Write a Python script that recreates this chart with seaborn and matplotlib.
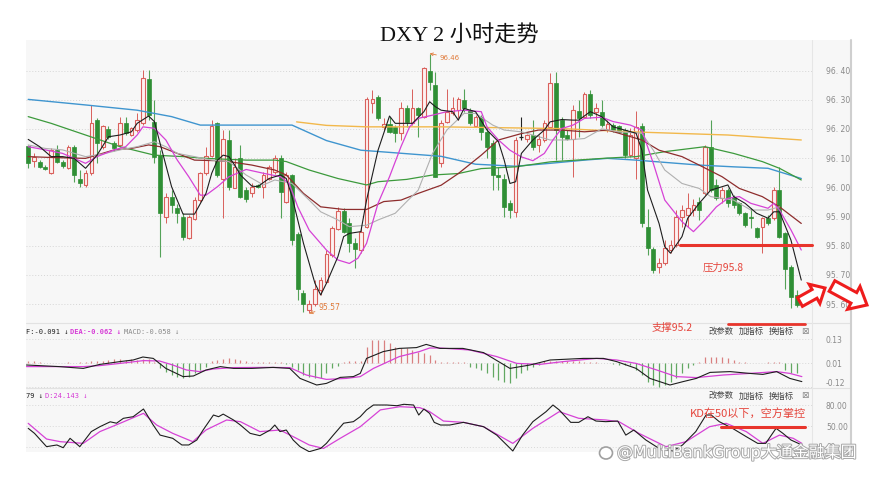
import numpy as np
import matplotlib
matplotlib.use("Agg")
import matplotlib.pyplot as plt
import seaborn as sns
from matplotlib.patches import Rectangle, FancyArrow, Ellipse
from matplotlib.lines import Line2D
from matplotlib.transforms import IdentityTransform
import matplotlib.patheffects as pe

# ---------------- data ----------------
title = "DXY 2 小时走势"

opens = [96.14, 96.09, 96.088, 96.07, 96.048, 96.128, 96.088, 96.065, 96.139, 96.03,
 96.008, 96.048, 96.23, 96.139, 96.198, 96.15, 96.145, 96.219, 96.179, 96.196,
 96.219, 96.37, 96.225, 96.11, 95.899, 95.968, 95.928, 95.899, 95.825, 95.89,
 95.956, 96.048, 96.107, 96.219, 96.03, 96.162, 95.999, 96.099, 95.99, 95.979,
 96.007, 96.002, 96.03, 96.053, 96.099, 95.951, 96.042, 95.839, 95.639, 95.58,
 95.6, 95.648, 95.677, 95.768, 95.857, 95.92, 95.876, 95.81, 95.785, 95.865,
 96.287, 96.31, 96.207, 96.216, 96.207, 96.185, 96.27, 96.219, 96.27, 96.241,
 96.399, 96.35, 96.082, 96.224, 96.253, 96.264, 96.298, 96.264, 96.21, 96.241,
 96.19, 96.15, 96.042, 96.03, 95.945, 95.916, 96.171, 96.164, 96.179, 96.144,
 96.162, 96.207, 96.358, 96.23, 96.179, 96.167, 96.26, 96.241, 96.321, 96.259,
 96.259, 96.196, 96.213, 96.21, 96.196, 96.11, 96.099, 96.21, 95.865, 95.787,
 95.728, 95.739, 95.785, 95.802, 95.899, 95.905, 95.922, 95.95, 95.979, 96.139,
 96.008, 95.962, 95.991, 95.968, 95.945, 95.911, 95.899, 95.859, 95.865, 95.894,
 95.894, 95.99, 95.842, 95.728, 95.631]

highs = [96.145, 96.116, 96.093, 96.075, 96.133, 96.145, 96.093, 96.145, 96.145, 96.059,
 96.059, 96.282, 96.236, 96.213, 96.21, 96.16, 96.242, 96.242, 96.207, 96.253,
 96.401, 96.401, 96.30, 96.128, 95.979, 95.991, 95.943, 95.911, 95.905, 95.968,
 96.053, 96.139, 96.230, 96.225, 96.196, 96.196, 96.099, 96.145, 96.0, 96.013,
 96.012, 96.053, 96.076, 96.11, 96.11, 96.053, 96.047, 95.848, 95.648, 95.614,
 95.682, 95.694, 95.785, 95.867, 95.933, 95.928, 95.894, 95.825, 95.865, 96.31,
 96.333, 96.316, 96.236, 96.242, 96.213, 96.293, 96.282, 96.338, 96.276, 96.413,
 96.458, 96.395, 96.23, 96.338, 96.31, 96.31, 96.338, 96.27, 96.247, 96.247,
 96.207, 96.162, 96.07, 96.047, 95.956, 96.173, 96.24, 96.184, 96.23, 96.179,
 96.23, 96.39, 96.395, 96.241, 96.196, 96.281, 96.298, 96.327, 96.333, 96.287,
 96.299, 96.23, 96.221, 96.215, 96.202, 96.202, 96.261, 96.221, 95.924, 95.796,
 95.757, 95.819, 95.819, 95.922, 95.939, 95.979, 95.96, 95.968, 96.145, 96.23,
 96.03, 96.002, 95.996, 95.975, 95.95, 95.916, 95.93, 95.865, 95.899, 95.905,
 96.002, 96.07, 95.848, 95.734, 95.648]

lows = [96.065, 96.07, 96.065, 96.06, 96.045, 96.082, 96.065, 96.062, 96.019, 96.002,
 96.002, 96.042, 96.082, 96.13, 96.165, 96.125, 96.139, 96.179, 96.175, 96.19,
 96.213, 96.23, 96.082, 95.762, 95.876, 95.911, 95.876, 95.819, 95.822, 95.888,
 95.951, 96.042, 96.105, 96.036, 95.894, 95.991, 95.996, 95.962, 95.95, 95.968,
 95.998, 95.962, 96.025, 96.047, 95.894, 95.945, 95.802, 95.614, 95.574, 95.568,
 95.593, 95.631, 95.671, 95.762, 95.853, 95.842, 95.779, 95.722, 95.774, 95.859,
 96.253, 96.23, 96.196, 96.185, 96.156, 96.162, 96.207, 96.213, 96.173, 96.239,
 96.333, 96.034, 96.07, 96.219, 96.247, 96.23, 96.259, 96.213, 96.205, 96.162,
 96.099, 95.99, 95.99, 95.899, 95.893, 95.899, 96.162, 96.156, 96.127, 96.122,
 96.156, 96.202, 96.093, 96.093, 96.162, 96.036, 96.173, 96.236, 96.236, 96.23,
 96.207, 96.19, 96.19, 96.185, 96.099, 96.105, 96.03, 95.865, 95.768, 95.707,
 95.707, 95.734, 95.774, 95.796, 95.865, 95.865, 95.90, 95.888, 95.973, 95.985,
 95.956, 95.945, 95.933, 95.928, 95.905, 95.865, 95.86, 95.825, 95.774, 95.871,
 95.888, 95.825, 95.65, 95.585, 95.591]

closes = [96.082, 96.105, 96.07, 96.063, 96.128, 96.088, 96.073, 96.139, 96.042, 96.013,
 96.048, 96.219, 96.150, 96.21, 96.171, 96.133, 96.219, 96.185, 96.202, 96.23,
 96.373, 96.247, 96.105, 95.911, 95.968, 95.939, 95.911, 95.83, 95.899, 95.956,
 96.048, 96.107, 96.21, 96.042, 96.164, 96.002, 96.07, 95.968, 95.96, 96.002,
 96.002, 96.042, 96.07, 96.099, 95.985, 96.042, 95.819, 95.65, 95.6, 95.6,
 95.65, 95.682, 95.771, 95.859, 95.92, 95.848, 95.808, 95.787, 95.848, 96.301,
 96.301, 96.236, 96.216, 96.19, 96.185, 96.27, 96.225, 96.27, 96.247, 96.41,
 96.361, 96.036, 96.219, 96.259, 96.27, 96.304, 96.27, 96.219, 96.241, 96.19,
 96.139, 96.042, 96.034, 95.933, 95.922, 96.162, 96.171, 96.179, 96.139, 96.167,
 96.219, 96.358, 96.196, 96.173, 96.167, 96.264, 96.236, 96.321, 96.247, 96.27,
 96.213, 96.217, 96.196, 96.19, 96.11, 96.179, 96.207, 95.876, 95.791, 95.717,
 95.74, 95.791, 95.802, 95.899, 95.922, 95.928, 95.939, 95.922, 96.139, 95.99,
 95.962, 95.99, 95.945, 95.939, 95.911, 95.871, 95.894, 95.831, 95.894, 95.876,
 95.99, 95.831, 95.719, 95.625, 95.597]

# moving-average lines (candle index, price)
ma5_x = [0, 2, 4, 6, 8, 10, 12, 14, 16, 18, 19, 21, 22, 23, 25, 27, 29, 31, 32, 33, 34, 35, 36, 37, 39, 40, 42, 44, 45, 46, 48, 50, 51, 52, 54, 55, 56, 58, 59, 61, 63, 64, 66, 67, 69, 70, 71, 72, 74, 75, 76, 78, 80, 82, 83, 84, 85, 86, 88, 90, 91, 93, 95, 96, 98, 100, 102, 104, 106, 107, 108, 110, 111, 112, 114, 115, 117, 119, 122, 123, 125, 127, 129, 130, 131, 133, 134.8]
ma5_y = [96.164, 96.139, 96.105, 96.105, 96.099, 96.065, 96.11, 96.173, 96.179, 96.19, 96.219, 96.244, 96.225, 96.15, 96.002, 95.908, 95.908, 95.979, 96.048, 96.093, 96.11, 96.105, 96.076, 96.042, 96.004, 96.002, 96.03, 96.042, 96.03, 95.968, 95.808, 95.671, 95.631, 95.671, 95.762, 95.831, 95.842, 95.848, 95.956, 96.127, 96.244, 96.219, 96.219, 96.219, 96.259, 96.293, 96.276, 96.264, 96.259, 96.23, 96.27, 96.259, 96.196, 96.156, 96.093, 96.013, 96.019, 96.116, 96.162, 96.196, 96.224, 96.232, 96.23, 96.23, 96.259, 96.242, 96.207, 96.196, 96.185, 96.127, 95.99, 95.876, 95.796, 95.774, 95.831, 95.894, 95.945, 95.99, 96.008, 95.968, 95.945, 95.911, 95.894, 95.916, 95.916, 95.819, 95.682]

ma10_x = [0, 3, 6, 10, 12, 15, 17, 19, 20, 22, 24, 26, 28, 30, 31, 33, 35, 38, 41, 44, 45.5, 47, 49, 52, 54, 56, 57.5, 59, 61, 63, 65, 66.5, 68, 70.5, 73, 76, 79, 80, 82, 84, 86, 88, 90, 91.5, 93, 95, 97, 100, 102, 105, 107, 109, 111, 114, 116, 118, 120, 122, 124, 126, 129, 130, 131, 133, 134.8]
ma10_y = [96.139, 96.128, 96.116, 96.082, 96.105, 96.128, 96.139, 96.179, 96.207, 96.202, 96.162, 96.093, 96.036, 95.973, 95.973, 96.002, 96.036, 96.061, 96.048, 96.036, 96.013, 95.933, 95.853, 95.785, 95.751, 95.739, 95.757, 95.808, 95.945, 96.036, 96.139, 96.207, 96.236, 96.247, 96.259, 96.264, 96.259, 96.207, 96.162, 96.127, 96.104, 96.091, 96.116, 96.162, 96.201, 96.213, 96.236, 96.24, 96.225, 96.213, 96.196, 96.082, 95.956, 95.882, 95.848, 95.888, 95.933, 95.962, 95.968, 95.945, 95.928, 95.945, 95.922, 95.854, 95.785]

ma20_x = [0, 3, 6, 10, 13, 16, 19, 22, 24, 26, 29, 32, 35, 38, 41, 43, 46, 49, 51, 54, 56, 59, 61, 64, 66, 68, 70.5, 73, 76, 78, 81, 83, 86, 88, 91, 94, 97, 100, 103, 107, 109, 111, 114, 117, 119, 123, 126, 129, 131]
ma20_y = [96.145, 96.133, 96.128, 96.105, 96.114, 96.128, 96.139, 96.156, 96.139, 96.116, 96.105, 96.093, 96.088, 96.042, 96.008, 96.025, 96.013, 95.956, 95.916, 95.888, 95.865, 95.87, 95.888, 95.911, 95.951, 95.99, 96.116, 96.196, 96.253, 96.253, 96.213, 96.196, 96.19, 96.179, 96.162, 96.162, 96.167, 96.2, 96.19, 96.185, 96.127, 96.059, 96.013, 95.996, 95.968, 95.956, 95.922, 95.922, 95.933]

ma30_x = [0, 4, 10, 15, 18, 21, 23, 26, 29, 33, 35, 39, 43, 45, 48, 51, 55, 59, 62, 65, 68, 72, 75, 79, 82, 86, 89, 93, 97, 101, 103, 107, 110, 114, 117, 121, 124, 128, 131, 134.8]
ma30_y = [96.105, 96.102, 96.099, 96.128, 96.133, 96.145, 96.139, 96.116, 96.093, 96.091, 96.088, 96.076, 96.059, 96.042, 95.979, 95.933, 95.924, 95.924, 95.951, 95.956, 95.979, 96.007, 96.047, 96.11, 96.162, 96.184, 96.196, 96.196, 96.19, 96.196, 96.185, 96.162, 96.127, 96.105, 96.076, 96.036, 95.996, 95.968, 95.933, 95.876]

ma60_x = [0, 4, 10, 16, 22, 27, 31, 38, 43, 45, 49, 54, 59, 61, 66, 70.5, 75, 79, 85, 91, 101, 106, 111, 118, 123, 128, 131, 134.8]
ma60_y = [96.242, 96.219, 96.179, 96.139, 96.11, 96.105, 96.099, 96.093, 96.093, 96.088, 96.059, 96.03, 96.008, 96.019, 96.027, 96.042, 96.047, 96.064, 96.07, 96.087, 96.1, 96.105, 96.122, 96.139, 96.116, 96.088, 96.065, 96.025]

ma120_x = [0, 10, 19, 25, 30, 46, 52, 58, 66, 72, 78, 85, 91, 97, 101, 106, 117, 123, 129, 134.8]
ma120_y = [96.301, 96.282, 96.264, 96.242, 96.213, 96.213, 96.16, 96.127, 96.115, 96.106, 96.079, 96.072, 96.082, 96.093, 96.099, 96.093, 96.076, 96.07, 96.065, 96.03]

ma250_x = [46.8, 52, 59, 72, 93, 105, 122, 134.8]
ma250_y = [96.224, 96.212, 96.207, 96.207, 96.201, 96.19, 96.179, 96.162]

price_ticks = [95.60, 95.70, 95.80, 95.90, 96.00, 96.10, 96.20, 96.30, 96.40]

# MACD panel
macd_hist = [0.010, 0.008, 0.003, 0.002, 0.002, 0.002, 0.002, 0.003, 0.002, 0.004,
 0.006, 0.012, 0.012, 0.010, 0.015, 0.020, 0.018, 0.015, 0.018, 0.015,
 0.020, 0.018, 0.005, -0.027, -0.043, -0.060, -0.068, -0.077, -0.068, -0.052,
 -0.035, -0.018, 0.008, 0.015, 0.020, 0.025, 0.020, 0.015, 0.010, 0.006,
 0.004, 0.004, 0.005, 0.006, 0.004, -0.005, -0.018, -0.035, -0.060, -0.068,
 -0.077, -0.077, -0.052, -0.027, -0.013, 0.005, 0.008, 0.010, 0.012, 0.082,
 0.115, 0.115, 0.115, 0.098, 0.082, 0.077, 0.073, 0.065, 0.057, 0.048,
 0.040, 0.015, 0.006, 0.005, 0.004, 0.003, 0.003, -0.018, -0.027, -0.035,
 -0.052, -0.068, -0.085, -0.093, -0.102, -0.077, -0.052, -0.035, -0.018, -0.010,
 0.008, 0.012, 0.012, 0.010, 0.008, 0.010, 0.008, 0.006, 0.005, 0.004,
 0.002, 0.002, -0.005, -0.008, -0.010, -0.012, -0.035, -0.060, -0.093, -0.110,
 -0.118, -0.110, -0.093, -0.077, -0.052, -0.027, -0.010, 0.005, 0.032, 0.032,
 0.032, 0.028, 0.023, 0.015, 0.007, 0.003, 0.002, 0.002, 0.002, 0.003,
 0.007, 0.007, -0.035, -0.052, -0.052]
dif_x = [-0.3, 5.4, 9.6, 12.5, 16, 18.3, 20, 21.8, 24, 27, 28.8, 31, 33.5, 35.8, 39, 42.7, 45.6, 47.4, 50.3, 52, 54.4, 56.7, 57.9, 59, 61.9, 64.7, 67.7, 69.4, 71.8, 75.8, 79.4, 84, 87.5, 91, 96.8, 100.3, 102.6, 106, 108.4, 111.9, 114.2, 116.5, 118.9, 122.4, 125.8, 128.1, 130.5, 132.8, 134.9]
dif_y = [-0.01, -0.018, -0.027, -0.007, 0.007, 0.015, 0.03, 0.023, -0.027, -0.068, -0.065, -0.035, -0.018, -0.027, -0.027, -0.022, -0.027, -0.077, -0.11, -0.102, -0.072, -0.068, -0.052, 0.023, 0.057, 0.073, 0.077, 0.093, 0.073, 0.073, 0.052, -0.027, -0.01, 0.015, 0.023, 0.023, 0.007, -0.027, -0.077, -0.11, -0.093, -0.077, -0.047, -0.043, -0.052, -0.057, -0.043, -0.077, -0.093]
dea_x = [-0.3, 9.6, 12.5, 16, 20.1, 22.9, 25.2, 27.6, 29.9, 32.2, 35.8, 41.5, 45.6, 48.5, 52, 55.5, 57.9, 60.2, 64.7, 68.2, 70, 71.8, 77, 81.7, 85.2, 89.2, 93.3, 99.1, 102.6, 106, 109.6, 113, 116.5, 121.2, 125.8, 130.5, 132.8, 134.9]
dea_y = [-0.018, -0.018, -0.013, -0.002, 0.012, 0.01, -0.01, -0.035, -0.043, -0.03, -0.023, -0.022, -0.023, -0.06, -0.082, -0.077, -0.068, -0.027, 0.032, 0.057, 0.075, 0.075, 0.065, 0.032, -0.002, -0.007, 0.007, 0.023, 0.015, -0.002, -0.035, -0.068, -0.073, -0.06, -0.052, -0.043, -0.052, -0.068]
macd_tick_pos = [0.12, 0.0, -0.095]
macd_tick_labels = ["0.13", "0.01", "-0.12"]

# KD panel
k_x = [0, 1.1, 3.2, 5, 6.1, 7.3, 9, 11, 12.5, 14.3, 15.4, 16.6, 18.3, 20.1, 21.8, 23, 25.2, 26.8, 28, 29.4, 30.5, 32.3, 33.2, 34, 35.8, 37, 38.7, 40.4, 42.2, 43, 43.9, 45, 46.2, 47.4, 49, 51, 52, 53.2, 55, 56.7, 57.9, 59, 60.2, 62.5, 64.3, 65.5, 67.2, 68.1, 69, 70, 70.8, 71.9, 73.5, 75.9, 79.4, 81.7, 84.5, 86.2, 88, 90.3, 91.5, 92.6, 94.6, 96, 97.6, 99, 100.7, 102.8, 104.2, 105.6, 107.7, 110, 112.4, 114.1, 116.4, 118.2, 119.1, 120.5, 122.8, 125.2, 127.2, 128.6, 130.4, 131.6, 133, 134.9]
k_y = [46.7, 39.5, 20.5, 22.9, 19, 32.4, 20.5, 42, 49, 56, 54, 61, 63.3, 74.3, 51.4, 37, 32.4, 22.9, 22.9, 30, 44.3, 65.7, 63.3, 67, 58.6, 51.4, 39.5, 36.2, 44.3, 51.4, 42, 44.3, 30, 20.5, 13.3, 18, 25.2, 37, 54, 56.2, 63.3, 73, 80, 80, 79, 81, 80, 65.7, 74.3, 68, 55.2, 51.4, 51.4, 55.2, 49, 37, 14.3, 37, 56.2, 70.5, 80, 72.9, 55.2, 55.2, 63.3, 57.1, 56.2, 57.1, 37, 44.3, 30, 18, 14.3, 22.9, 42, 65.7, 65.7, 56.2, 46.7, 34.8, 25.2, 25.2, 46.7, 39.5, 30, 22.9]
d_x = [0, 3.2, 5.6, 9.6, 12.5, 16, 20.1, 22.4, 25.2, 28.7, 31, 34.6, 37, 40.4, 43.9, 46.2, 49, 51.5, 54.4, 57.9, 61.4, 64.8, 68.3, 70, 72.4, 75.9, 79.4, 84.5, 88, 92.6, 96, 100.7, 103, 106.5, 111.2, 114.7, 118.8, 121.7, 125.2, 128.1, 131, 133.4, 134.9]
d_y = [53.8, 31.4, 27.6, 25.2, 42, 53.8, 68.1, 51.4, 39.5, 27.6, 44.3, 58.6, 56.2, 42, 44.3, 34.8, 22.9, 18, 32.4, 49, 73, 77.6, 76.2, 70.5, 57.1, 55.2, 49, 25.2, 46.7, 70.5, 61, 58.6, 56.2, 39.5, 20.5, 27.6, 49, 53.8, 42, 25.2, 37, 32.4, 25.2]
kd_ticks = [80, 50]
kd_tick_labels = ["80.00", "50.00"]

# ---------------- figure ----------------
sns.set_theme(style="white")
plt.rcParams["font.family"] = ["DejaVu Sans", "Noto Sans CJK SC"]
W, H = 876, 486
fig = plt.figure(figsize=(W / 100, H / 100), dpi=100)
fig.patch.set_facecolor("white")


def box(x0, y0, x1, y1):
    return [x0 / W, 1 - y1 / H, (x1 - x0) / W, (y1 - y0) / H]


def fx(x):
    return x / W


def fy(y):
    return 1 - y / H


fig.add_artist(Rectangle((fx(26), fy(452)), (851 - 26) / W, (452 - 40) / H,
                         transform=fig.transFigure, facecolor="#f7f7f7",
                         edgecolor="none", zorder=-5))
for yy in (323, 388):
    fig.add_artist(Line2D([fx(26), fx(851)], [fy(yy), fy(yy)], color="#e2e2e2", lw=0.8, zorder=-4))
fig.add_artist(Line2D([fx(812), fx(812)], [fy(40), fy(452)], color="#e6e6e6", lw=0.8, zorder=-4))
fig.add_artist(Line2D([fx(851), fx(851)], [fy(40), fy(452)], color="#cfcfcf", lw=1.5, zorder=-4))

XL = (-0.384, 136.67)
n = len(closes)
idx = np.arange(n)

# ---- main price panel ----
ax = fig.add_axes(box(26, 40, 812, 323))
ax.set_facecolor("none")
ax.set_xlim(*XL)
ax.set_ylim(95.535, 96.5045)
for v in price_ticks:
    ax.axhline(v, color="#d6d6d6", lw=0.7, ls=(0, (1, 2)), zorder=0)

o = np.array(opens); c = np.array(closes); h = np.array(highs); l = np.array(lows)
up = c > o
dn = c < o
flat = ~(up | dn)
red_e, red_f, grn = "#d9605c", "#fdf1f1", "#2f8f35"
ax.vlines(idx[up], l[up], h[up], color=red_e, lw=0.7, zorder=2)
ax.vlines(idx[dn], l[dn], h[dn], color="#54a258", lw=0.8, zorder=2)
ax.vlines(idx[flat], l[flat], h[flat], color="#222222", lw=0.8, zorder=2)
bh = np.maximum(np.abs(c - o), 0.0025)
bb = np.minimum(o, c)
ax.bar(idx[up], bh[up], bottom=bb[up], width=0.62, facecolor=red_f, edgecolor=red_e, lw=0.8, zorder=3)
ax.bar(idx[dn], bh[dn], bottom=bb[dn], width=0.7, facecolor=grn, edgecolor=grn, lw=0.5, zorder=3)
ax.hlines(c[flat], idx[flat] - 0.35, idx[flat] + 0.35, color="#222222", lw=0.9, zorder=3)

lines = [
    (ma250_x, ma250_y, "#f2b84b", 1.0),
    (ma120_x, ma120_y, "#3f95cf", 1.0),
    (ma60_x, ma60_y, "#3c9a3c", 0.9),
    (ma30_x, ma30_y, "#8e2d2d", 0.9),
    (ma20_x, ma20_y, "#b0b0b0", 0.8),
    (ma10_x, ma10_y, "#d642d6", 0.9),
    (ma5_x, ma5_y, "#1e1e1e", 0.8),
]
for xs, ys, col, lw in lines:
    sns.lineplot(x=xs, y=ys, ax=ax, color=col, lw=lw, estimator=None, sort=False, zorder=4)

ax.yaxis.tick_right()
ax.set_yticks(price_ticks)
ax.set_yticklabels([f"{v:.2f}".replace(".", ". ") for v in price_ticks])
ax.tick_params(axis="y", length=0, pad=10, labelsize=5.5, labelcolor="#8a8a8a")
ax.set_xticks([])
for s in ax.spines.values():
    s.set_visible(False)

# extreme annotations
ax.annotate("96.46", xy=(70, 96.458), xytext=(10, -4), textcoords="offset pixels",
            fontsize=5, color="#e07a3a", va="center", ha="left",
            arrowprops=dict(arrowstyle="->", color="#e07a3a", lw=0.6, shrinkA=0, shrinkB=0))
ax.annotate("95.57", xy=(49, 95.568), xytext=(9, 6), textcoords="offset pixels",
            fontsize=5.5, color="#e07a3a", va="center", ha="left",
            arrowprops=dict(arrowstyle="->", color="#e07a3a", lw=0.6, shrinkA=0, shrinkB=0))

# ---- MACD panel ----
ax2 = fig.add_axes(box(26, 323, 812, 388))
ax2.set_facecolor("none")
ax2.set_xlim(*XL)
ax2.set_ylim(-0.125, 0.2)
for v in (0.12, 0.0, -0.12):
    ax2.axhline(v, color="#d8d8d8", lw=0.7, ls=(0, (1, 2)), zorder=0)
hist = np.array(macd_hist)
pos = hist >= 0
ax2.vlines(idx[pos], 0, hist[pos], color="#d98080", lw=0.9, zorder=2)
ax2.vlines(idx[~pos], 0, hist[~pos], color="#62a862", lw=0.9, zorder=2)
sns.lineplot(x=dea_x, y=dea_y, ax=ax2, color="#d642d6", lw=0.9, estimator=None, sort=False, zorder=3)
sns.lineplot(x=dif_x, y=dif_y, ax=ax2, color="#1e1e1e", lw=0.8, estimator=None, sort=False, zorder=4)
ax2.yaxis.tick_right()
ax2.set_yticks(macd_tick_pos)
ax2.set_yticklabels(macd_tick_labels)
ax2.tick_params(axis="y", length=0, pad=10, labelsize=5.5, labelcolor="#8a8a8a")
ax2.set_xticks([])
for s in ax2.spines.values():
    s.set_visible(False)

# ---- KD panel ----
ax3 = fig.add_axes(box(26, 388, 812, 452))
ax3.set_facecolor("none")
ax3.set_xlim(*XL)
ax3.set_ylim(12.86, 104.3)
for v in (80, 50, 20):
    ax3.axhline(v, color="#d8d8d8", lw=0.7, ls=(0, (1, 2)), zorder=0)
sns.lineplot(x=d_x, y=d_y, ax=ax3, color="#d642d6", lw=0.9, estimator=None, sort=False, zorder=3)
sns.lineplot(x=k_x, y=k_y, ax=ax3, color="#1e1e1e", lw=0.8, estimator=None, sort=False, zorder=4)
ax3.yaxis.tick_right()
ax3.set_yticks(kd_ticks)
ax3.set_yticklabels(kd_tick_labels)
ax3.tick_params(axis="y", length=0, pad=10, labelsize=5.5, labelcolor="#8a8a8a")
ax3.set_xticks([])
for s in ax3.spines.values():
    s.set_visible(False)

# ---- texts ----
fig.text(fx(459), fy(36), title, ha="center", va="center", fontsize=16,
         family=["Liberation Serif", "Noto Sans CJK SC"], color="#111111")

mono = ["DejaVu Sans Mono"]
fig.text(fx(26), fy(331.5), "F:-0.091 ↓", fontsize=5, family=mono, color="#222222", va="center")
fig.text(fx(70), fy(331.5), "DEA:-0.062 ↓", fontsize=5, family=mono, color="#d63ad6", va="center", weight="bold")
fig.text(fx(124), fy(331.5), "MACD:-0.058 ↓", fontsize=5, family=mono, color="#8a8a8a", va="center")
fig.text(fx(26), fy(396), "79 ↓", fontsize=5, family=mono, color="#222222", va="center")
fig.text(fx(45), fy(396), "D:24.143 ↓", fontsize=5, family=mono, color="#d63ad6", va="center")

cjk = ["Noto Sans CJK SC", "DejaVu Sans"]
for yy in (331.5, 396):
    for xx, t in ((709, "改参数"), (739, "加指标"), (769, "换指标")):
        fig.text(fx(xx), fy(yy), t, fontsize=6, family=cjk, color="#444444", va="center")
    fig.text(fx(805), fy(yy), "⊠", fontsize=6.5, family=["DejaVu Sans"], color="#888888", va="center", ha="center")

red = "#e8352c"
fig.add_artist(Line2D([fx(680), fx(812)], [fy(245), fy(245)], color=red, lw=2.2, zorder=10))
fig.add_artist(Line2D([fx(728), fx(805)], [fy(324), fy(324)], color=red, lw=2.0, zorder=10))
fig.add_artist(Line2D([fx(721), fx(805)], [fy(427), fy(427)], color=red, lw=2.2, zorder=10))
fig.text(fx(723), fy(268), "压力95.8", fontsize=7.5, family=cjk, color="#e5453c", ha="center", va="center")
fig.text(fx(672), fy(328), "支撑95.2", fontsize=7.5, family=cjk, color="#e5453c", ha="center", va="center")
fig.text(fx(748), fy(414), "KD在50以下，空方掌控", fontsize=8, family=cjk, color="#e5453c", ha="center", va="center")

# hollow red arrows
fig.add_artist(FancyArrow(800, H - 302, 25, 14, width=10, head_width=22, head_length=12,
                          length_includes_head=True, transform=IdentityTransform(),
                          facecolor="white", edgecolor="#ee1c1c", lw=2.2, zorder=20))
fig.add_artist(FancyArrow(832, H - 286, 35, -19, width=12, head_width=26, head_length=15,
                          length_includes_head=True, transform=IdentityTransform(),
                          facecolor="white", edgecolor="#ee1c1c", lw=2.2, zorder=20))

# watermark
fig.add_artist(Ellipse((fx(606), fy(453)), 13 / W, 12 / H, transform=fig.transFigure,
                       facecolor="white", edgecolor="#a0a0a0", lw=1.2, zorder=20))
fig.text(fx(617), fy(452), "@MultiBankGroup大通金融集团", fontsize=11.5,
         family=["DejaVu Sans", "Noto Sans CJK SC"], color="white", va="center", ha="left",
         path_effects=[pe.withStroke(linewidth=1.4, foreground="#a8a8a8")], zorder=21)

fig.savefig("out.png", dpi=100, facecolor="white")
